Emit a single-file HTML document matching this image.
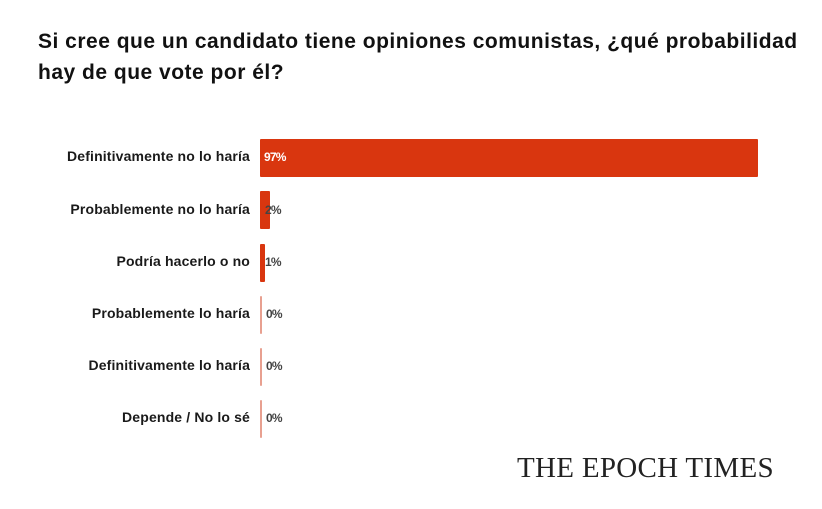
<!DOCTYPE html>
<html><head><style>
body{margin:0;width:822px;height:509px;background:#fff;position:relative;font-family:"Liberation Sans",sans-serif;overflow:hidden}
.t{position:absolute;left:38px;top:26px;font-size:21px;letter-spacing:0.5px;font-weight:bold;line-height:31px;color:#111;width:790px;white-space:nowrap}
.l{position:absolute;right:572px;font-size:14px;letter-spacing:0.15px;font-weight:bold;color:#1a1a1a;text-align:right;white-space:nowrap}
.b{position:absolute;left:260px;height:38px;background:#d9360f;border-radius:1px}
.v{position:absolute;font-size:12px;font-weight:bold;color:#444;letter-spacing:-0.8px}
.logo{position:absolute;left:517px;top:452px;font-family:"Liberation Serif",serif;font-size:29px;color:#222;letter-spacing:0.3px;white-space:nowrap}
</style></head><body>
<div class="t">Si cree que un candidato tiene opiniones comunistas, ¿qué probabilidad<br>hay de que vote por él?</div>

<div class="l" style="top:148px">Definitivamente no lo haría</div>
<div class="b" style="top:139px;width:498px"></div>
<div class="v" style="left:264px;top:150px;color:#fff">97%</div>

<div class="l" style="top:201px">Probablemente no lo haría</div>
<div class="b" style="top:191px;width:10px"></div>
<div class="v" style="left:265px;top:203px">2%</div>

<div class="l" style="top:253px">Podría hacerlo o no</div>
<div class="b" style="top:244px;width:5px"></div>
<div class="v" style="left:265px;top:255px">1%</div>

<div class="l" style="top:305px">Probablemente lo haría</div>
<div class="b" style="top:296px;width:2px;background:#e8a090"></div>
<div class="v" style="left:266px;top:307px">0%</div>

<div class="l" style="top:357px">Definitivamente lo haría</div>
<div class="b" style="top:348px;width:2px;background:#e8a090"></div>
<div class="v" style="left:266px;top:359px">0%</div>

<div class="l" style="top:409px">Depende / No lo sé</div>
<div class="b" style="top:400px;width:2px;background:#e8a090"></div>
<div class="v" style="left:266px;top:411px">0%</div>

<div class="logo">THE EPOCH TIMES</div>
</body></html>
